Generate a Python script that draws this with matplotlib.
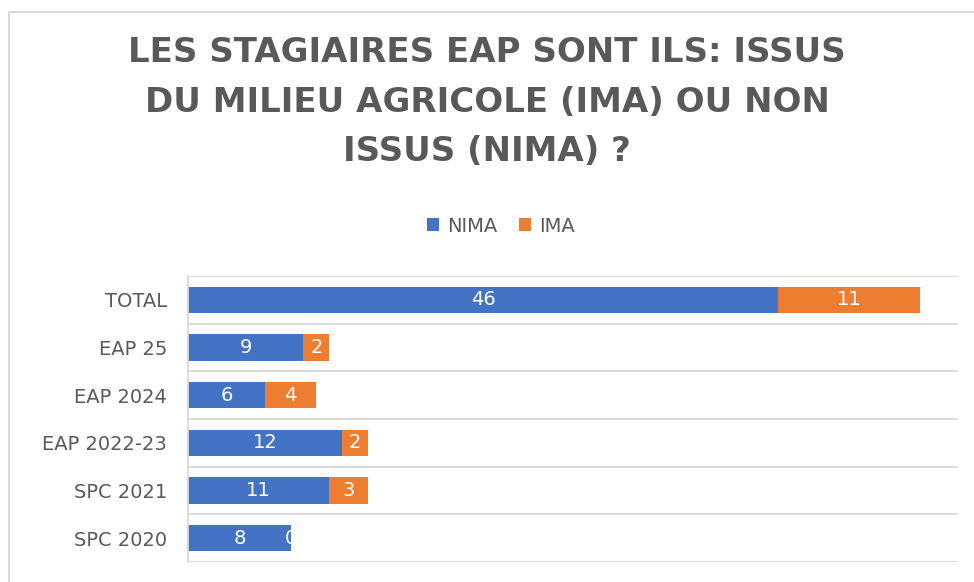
import matplotlib.pyplot as plt
import numpy as np
from matplotlib.patches import Rectangle

# chart data
categories = ["TOTAL", "EAP 25", "EAP 2024", "EAP 2022-23", "SPC 2021", "SPC 2020"]
nima = [46, 9, 6, 12, 11, 8]
ima = [11, 2, 4, 2, 3, 0]

title = "LES STAGIAIRES EAP SONT ILS: ISSUS\nDU MILIEU AGRICOLE (IMA) OU NON\nISSUS (NIMA) ?"

BLUE = "#4472C4"
ORANGE = "#ED7D31"
GREY = "#595959"
GRID = "#D9D9D9"

fig = plt.figure(figsize=(9.74, 5.82), dpi=100)
ax = fig.add_axes([0.193, 0.0344, 0.7906, 0.4914])

y = np.arange(len(categories))
ax.barh(y, nima, height=0.55, color=BLUE, label="NIMA")
ax.barh(y, ima, left=nima, height=0.55, color=ORANGE, label="IMA")

# value labels in the middle of each segment
for i in range(len(categories)):
    ax.text(nima[i] / 2, y[i], str(nima[i]), color="white", fontsize=14,
            ha="center", va="center")
    ax.text(nima[i] + ima[i] / 2, y[i], str(ima[i]), color="white", fontsize=14,
            ha="center", va="center")

ax.set_xlim(0, 60)
ax.set_ylim(len(categories) - 0.5, -0.5)
ax.set_yticks(y)
ax.set_yticklabels(categories, fontsize=14, color=GREY)
ax.set_xticks([])
ax.set_yticks(np.arange(-0.5, len(categories)), minor=True)
ax.tick_params(axis="y", which="both", length=0, pad=15)
ax.grid(axis="y", which="minor", color=GRID, linewidth=1.3)
ax.set_axisbelow(True)
for side in ["top", "right", "bottom"]:
    ax.spines[side].set_visible(False)
ax.spines["left"].set_color(GRID)
ax.spines["left"].set_linewidth(1.3)

fig.text(0.5, 1 - 102 / 582, title, ha="center", va="center", fontsize=24.5,
         fontweight="bold", color=GREY, linespacing=1.65)

fig.legend(loc="center", bbox_to_anchor=(0.514, 1 - 226 / 582), ncol=2,
           frameon=False, fontsize=14, labelcolor=GREY, handlelength=0.65,
           handleheight=0.65, handletextpad=0.4, columnspacing=1.1)

# chart frame
fig.add_artist(Rectangle((9 / 974, -0.1), 1.1, 0.1 + (582 - 12) / 582,
                         transform=fig.transFigure, fill=False,
                         edgecolor=GRID, linewidth=1.5))

fig.savefig("out.png", dpi=100)
